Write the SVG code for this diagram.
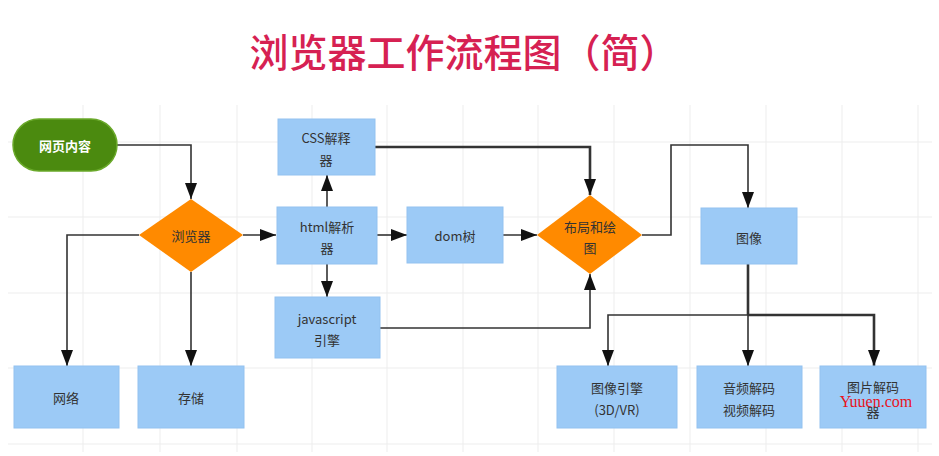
<svg xmlns="http://www.w3.org/2000/svg" width="939" height="456" viewBox="0 0 939 456">
<style>
  .grid line { stroke: #ededed; stroke-width: 1; }
  .box { fill: #9ccaf6; stroke: #93c2f0; stroke-width: 1; }
  .dia { fill: #ff8a00; }
  .t { font-family: "Noto Sans CJK SC", "Noto Sans", sans-serif; font-size: 13px; fill: #333; text-anchor: middle; dominant-baseline: central; }
  .conn path { fill: none; stroke: #333; stroke-width: 1.6; }
  .conn path.thick { stroke-width: 2.6; }
</style>
<defs>
  <marker id="ah" viewBox="0 0 16 12" refX="16" refY="6" markerWidth="16" markerHeight="12" markerUnits="userSpaceOnUse" orient="auto">
    <path d="M0,0 L16,6 L0,12 z" fill="#111"/>
  </marker>
</defs>
<rect width="939" height="456" fill="#fff"/>
<g class="grid">
  <line x1="83" y1="105" x2="83" y2="452"/>
  <line x1="160" y1="105" x2="160" y2="452"/>
  <line x1="237" y1="105" x2="237" y2="452"/>
  <line x1="312" y1="105" x2="312" y2="452"/>
  <line x1="387" y1="105" x2="387" y2="452"/>
  <line x1="463" y1="105" x2="463" y2="452"/>
  <line x1="538" y1="105" x2="538" y2="452"/>
  <line x1="614" y1="105" x2="614" y2="452"/>
  <line x1="690" y1="105" x2="690" y2="452"/>
  <line x1="766" y1="105" x2="766" y2="452"/>
  <line x1="842" y1="105" x2="842" y2="452"/>
  <line x1="918" y1="105" x2="918" y2="452"/>
  <line x1="8" y1="142" x2="932" y2="142"/>
  <line x1="8" y1="217" x2="932" y2="217"/>
  <line x1="8" y1="293" x2="932" y2="293"/>
  <line x1="8" y1="368" x2="932" y2="368"/>
  <line x1="8" y1="444" x2="932" y2="444"/>
</g>
<text x="464" y="50" font-family="Noto Sans CJK SC, sans-serif" font-size="39" font-weight="500" fill="#d62152" text-anchor="middle" dominant-baseline="central">浏览器工作流程图（简）</text>
<g class="conn">
  <path d="M117,145 H191 V199" marker-end="url(#ah)"/>
  <path d="M243,235 H276" marker-end="url(#ah)"/>
  <path d="M139,235 H67 V366" marker-end="url(#ah)"/>
  <path d="M191,272 V366" marker-end="url(#ah)"/>
  <path d="M327,207 V175" marker-end="url(#ah)"/>
  <path d="M327,264 V297" marker-end="url(#ah)"/>
  <path d="M377,235 H407" marker-end="url(#ah)"/>
  <path d="M503,235 H537" marker-end="url(#ah)"/>
  <path class="thick" d="M375,147 H590 V195" marker-end="url(#ah)"/>
  <path d="M380,328 H590 V274" marker-end="url(#ah)"/>
  <path d="M642,235 H671 V145 H748 V208" marker-end="url(#ah)"/>
  <path class="thick" d="M748,264 V315"/>
  <path d="M748,315 H608 V366" marker-end="url(#ah)"/>
  <path d="M748,315 V366" marker-end="url(#ah)"/>
  <path class="thick" d="M748,315 H874 V366" marker-end="url(#ah)"/>
</g>
<g id="webpage">
  <rect x="13" y="119" width="104" height="52" rx="26" fill="#4b8a0f" stroke="#6aa92a" stroke-width="1.5"/>
  <text class="t" x="65" y="145" style="fill:#fff;font-weight:bold">网页内容</text>
</g>
<g id="browser">
  <polygon class="dia" points="191,199 243,235 191,272 139,235"/>
  <text class="t" x="191" y="235">浏览器</text>
</g>
<g id="css">
  <rect class="box" x="278" y="119" width="97" height="56"/>
  <text class="t" x="326" y="137">CSS解释</text>
  <text class="t" x="326" y="159">器</text>
</g>
<g id="html">
  <rect class="box" x="277" y="207" width="100" height="57"/>
  <text class="t" x="327" y="226">html解析</text>
  <text class="t" x="327" y="247">器</text>
</g>
<g id="js">
  <rect class="box" x="275" y="297" width="105" height="61"/>
  <text class="t" x="327" y="318">javascript</text>
  <text class="t" x="327" y="339">引擎</text>
</g>
<g id="dom">
  <rect class="box" x="407" y="207" width="96" height="56"/>
  <text class="t" x="455" y="235">dom树</text>
</g>
<g id="layout">
  <polygon class="dia" points="590,195 642,235 590,274 537,235"/>
  <text class="t" x="590" y="226">布局和绘</text>
  <text class="t" x="590" y="247">图</text>
</g>
<g id="image">
  <rect class="box" x="701" y="208" width="96" height="56"/>
  <text class="t" x="749" y="237">图像</text>
</g>
<g id="network">
  <rect class="box" x="14" y="366" width="105" height="62"/>
  <text class="t" x="66" y="397">网络</text>
</g>
<g id="storage">
  <rect class="box" x="138" y="366" width="106" height="62"/>
  <text class="t" x="191" y="397">存储</text>
</g>
<g id="engine3d">
  <rect class="box" x="557" y="366" width="120" height="62"/>
  <text class="t" x="617" y="387">图像引擎</text>
  <text class="t" x="617" y="409">(3D/VR)</text>
</g>
<g id="av">
  <rect class="box" x="697" y="366" width="105" height="62"/>
  <text class="t" x="749" y="387">音频解码</text>
  <text class="t" x="749" y="409">视频解码</text>
</g>
<g id="imgdec">
  <rect class="box" x="820" y="366" width="106" height="62"/>
  <text class="t" x="873" y="386">图片解码</text>
  <text class="t" x="873" y="411">器</text>
</g>
<text x="876" y="401" font-family="Liberation Serif, serif" font-size="16" fill="#e8121c" text-anchor="middle" dominant-baseline="central">Yuuen.com</text>
</svg>
